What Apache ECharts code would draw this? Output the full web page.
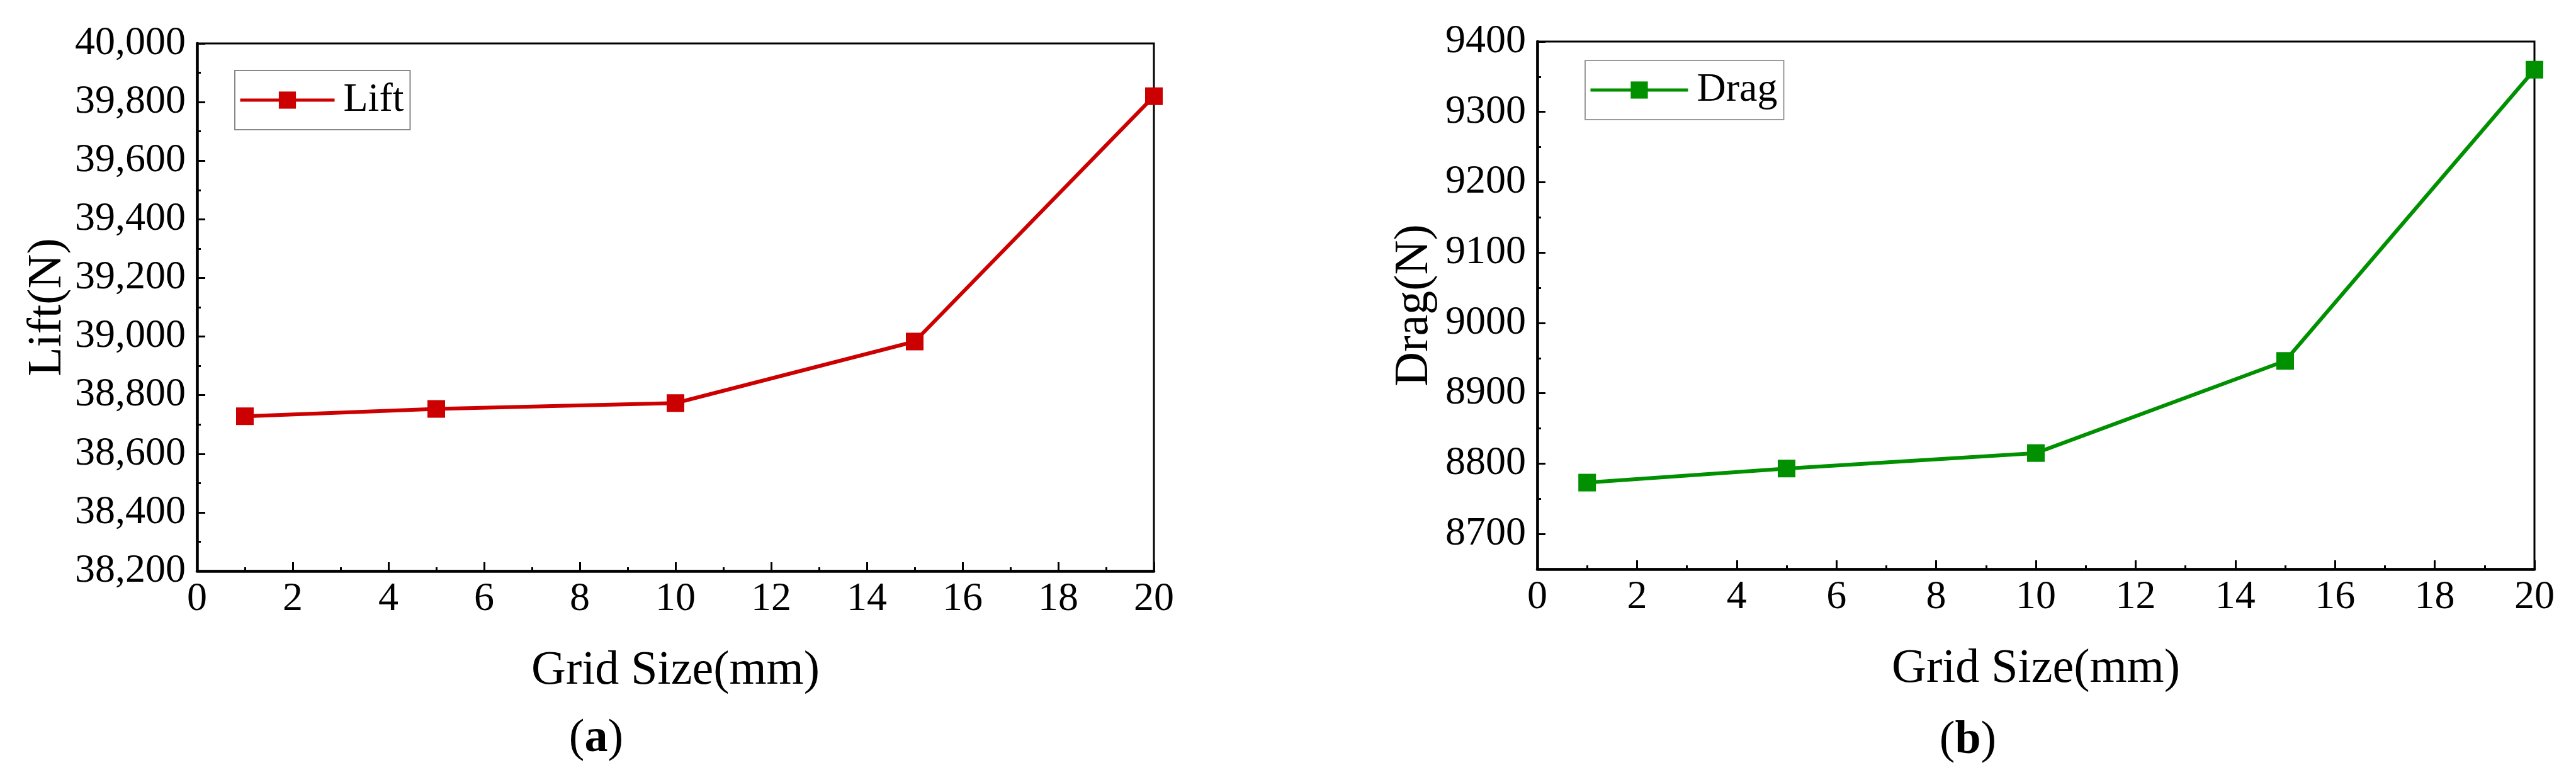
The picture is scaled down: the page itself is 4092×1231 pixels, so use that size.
<!DOCTYPE html>
<html>
<head>
<meta charset="utf-8">
<script src="https://cdn.jsdelivr.net/npm/echarts@6/dist/echarts.min.js"></script>
<style>
  html, body { margin: 0; padding: 0; background: #fff; }
  #chart { width: 4092px; height: 1231px; }
</style>
</head>
<body>
<div id="chart"></div>
<script>
// data
var gridSizes = [1, 5, 10, 15, 20];
var liftValues = [38728, 38753, 38773, 38983, 39820];
var dragValues = [8773, 8793, 8815, 8946, 9360];

// tick values
var dragTicks = [8700, 8800, 8900, 9000, 9100, 9200, 9300, 9400];
var dragMinorTicks = [8750, 8850, 8950, 9050, 9150, 9250, 9350];

var font = 'Liberation Serif';

function pairs(xs, ys) {
  var out = [];
  for (var i = 0; i < xs.length; i++) out.push([xs[i], ys[i]]);
  return out;
}

function xAxisFor(gi) {
  return {
    type: 'value', gridIndex: gi, min: 0, max: 20, interval: 2,
    name: 'Grid Size(mm)', nameLocation: 'middle', nameGap: 121,
    nameTextStyle: { fontFamily: font, fontSize: 76, color: '#000' },
    axisLine: { show: true, onZero: false, lineStyle: { color: '#000', width: 4.5 } },
    axisTick: { show: true, inside: true, length: 14, lineStyle: { color: '#000', width: 3 } },
    minorTick: { show: true, splitNumber: 2, length: 6, lineStyle: { color: '#000', width: 3 } },
    axisLabel: { fontFamily: font, fontSize: 64, color: '#000', margin: 13 },
    splitLine: { show: false }
  };
}

var chart = echarts.init(document.getElementById('chart'));

var option = {
  backgroundColor: '#fff',
  animation: false,
  grid: [
    { left: 313, top: 69, width: 1520, height: 838, show: true, borderColor: '#000', borderWidth: 3 },
    { left: 2442, top: 66, width: 1584, height: 838, show: true, borderColor: '#000', borderWidth: 3 }
  ],
  legend: [
    {
      data: ['Lift'], left: 373, top: 112, orient: 'vertical',
      itemWidth: 150, itemHeight: 34,
      padding: [15, 10, 15, 6],
      borderColor: '#888', borderWidth: 2,
      lineStyle: { width: 5 },
      textStyle: { fontFamily: font, fontSize: 64, color: '#000', padding: [0, 0, 0, 9] }
    },
    {
      data: ['Drag'], left: 2518, top: 96, orient: 'vertical',
      itemWidth: 155, itemHeight: 34,
      padding: [15, 10, 15, 6],
      borderColor: '#999', borderWidth: 2,
      lineStyle: { width: 5 },
      textStyle: { fontFamily: font, fontSize: 64, color: '#000', padding: [0, 0, 0, 9] }
    }
  ],
  xAxis: [xAxisFor(0), xAxisFor(1)],
  yAxis: [
    {
      type: 'value', gridIndex: 0, min: 38200, max: 40000, interval: 200,
      name: 'Lift(N)', nameLocation: 'middle', nameGap: 199,
      nameTextStyle: { fontFamily: font, fontSize: 76, color: '#000' },
      axisLine: { show: true, lineStyle: { color: '#000', width: 4.5 } },
      axisTick: { show: true, inside: true, length: 13, lineStyle: { color: '#000', width: 3 } },
      minorTick: { show: true, splitNumber: 2, length: 6, lineStyle: { color: '#000', width: 3 } },
      axisLabel: {
        fontFamily: font, fontSize: 64, color: '#000', margin: 18,
        formatter: function (v) { return String(v).replace(/\B(?=(\d{3})+(?!\d))/g, ','); }
      },
      splitLine: { show: false }
    },
    {
      type: 'value', gridIndex: 1, min: 8650, max: 9400, interval: 50,
      name: 'Drag(N)', nameLocation: 'middle', nameGap: 157,
      nameTextStyle: { fontFamily: font, fontSize: 76, color: '#000' },
      axisLine: { show: true, lineStyle: { color: '#000', width: 4.5 } },
      axisTick: { show: true, inside: true, length: 13, customValues: dragTicks, lineStyle: { color: '#000', width: 3 } },
      axisLabel: {
        fontFamily: font, fontSize: 64, color: '#000', margin: 18, customValues: dragTicks,
        formatter: function (v) { return String(v); }
      },
      splitLine: { show: false }
    },
    {
      // minor ticks for the drag axis
      type: 'value', gridIndex: 1, position: 'left', offset: 0, min: 8650, max: 9400, interval: 50,
      axisLine: { show: false },
      axisTick: { show: true, inside: true, length: 6, customValues: dragMinorTicks, lineStyle: { color: '#000', width: 3 } },
      axisLabel: { show: false },
      splitLine: { show: false }
    }
  ],
  series: [
    {
      name: 'Lift', type: 'line', xAxisIndex: 0, yAxisIndex: 0,
      data: pairs(gridSizes, liftValues),
      symbol: 'rect', symbolSize: 28,
      itemStyle: { color: '#cc0000' },
      lineStyle: { color: '#cc0000', width: 6 }
    },
    {
      name: 'Drag', type: 'line', xAxisIndex: 1, yAxisIndex: 1,
      data: pairs(gridSizes, dragValues),
      symbol: 'rect', symbolSize: 28,
      itemStyle: { color: '#009000' },
      lineStyle: { color: '#009000', width: 6 }
    }
  ],
  graphic: [
    {
      type: 'text', x: 947, y: 1174,
      style: {
        text: '({b|a})', textAlign: 'center', textVerticalAlign: 'middle',
        fontFamily: font, fontSize: 74, fill: '#000',
        rich: { b: { fontFamily: font, fontSize: 74, fontWeight: 'bold', fill: '#000' } }
      }
    },
    {
      type: 'text', x: 3126, y: 1177,
      style: {
        text: '({b|b})', textAlign: 'center', textVerticalAlign: 'middle',
        fontFamily: font, fontSize: 74, fill: '#000',
        rich: { b: { fontFamily: font, fontSize: 74, fontWeight: 'bold', fill: '#000' } }
      }
    }
  ]
};

chart.setOption(option);
</script>
</body>
</html>
